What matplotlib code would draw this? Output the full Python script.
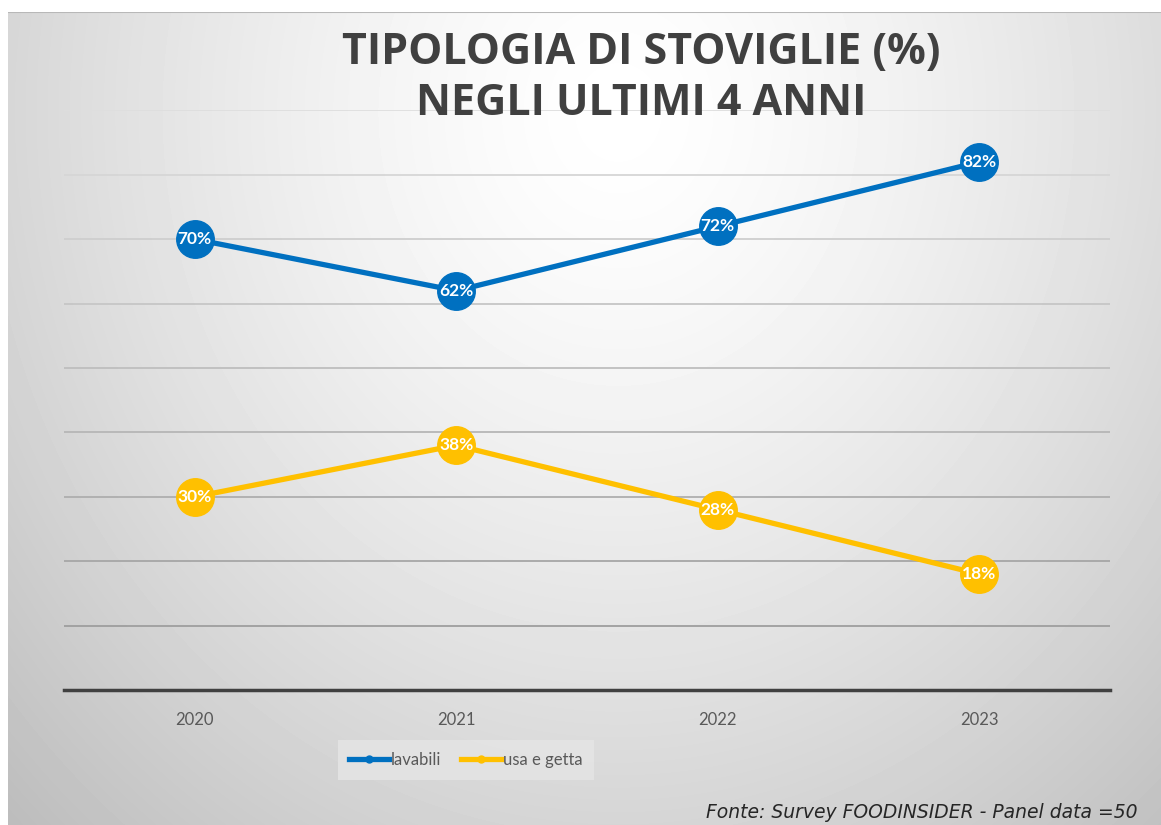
import matplotlib
matplotlib.use("Agg")
import matplotlib.pyplot as plt
import numpy as np

years = ["2020", "2021", "2022", "2023"]
lavabili = [70, 62, 72, 82]
usa_e_getta = [30, 38, 28, 18]
grid_levels = [10, 20, 30, 40, 50, 60, 70, 80, 90]

title = "TIPOLOGIA DI STOVIGLIE (%)\nNEGLI ULTIMI 4 ANNI"
source = "Fonte: Survey FOODINSIDER - Panel data =50"

W, H = 1161, 825
fig = plt.figure(figsize=(W / 100, H / 100), dpi=100)
fig.patch.set_facecolor("white")

# radial gradient background (white near title, gray at the edges)
bg = fig.add_axes([8 / W, 0, 1 - 8 / W, 1 - 12 / H], zorder=0)
yy, xx = np.mgrid[0:813, 0:1153]
r = np.sqrt(((xx - 610) / 720.0) ** 2 + ((yy - 100) / 820.0) ** 2)
shade = 1.0 - 0.2 * np.clip(r, 0, 1.2) ** 1.4
bg.imshow(shade, cmap="gray", vmin=0, vmax=1, aspect="auto",
          extent=[0, 1, 0, 1], origin="upper")
bg.plot([0, 1], [1, 1], color="#b8b8b8", lw=1.5, transform=bg.transAxes)
bg.set_axis_off()

ax = fig.add_axes([64 / W, (H - 690) / H, (1110 - 64) / W, (690 - 110.4) / H], zorder=1)
ax.patch.set_alpha(0)
x = np.arange(len(years)) + 0.5
ax.set_xlim(0, len(years))
ax.set_ylim(0, 90)

for lv in grid_levels:
    g = 0.62 + 0.25 * (lv - 10) / 80
    ax.axhline(lv, color=(g, g, g), lw=1.3, zorder=1)

for s in ["top", "right", "left"]:
    ax.spines[s].set_visible(False)
ax.spines["bottom"].set_color("#404040")
ax.spines["bottom"].set_linewidth(2.5)
ax.set_yticks([])
ax.set_xticks(x)
ax.set_xticklabels(years, fontsize=12, color="#595959", family="Lato")
ax.tick_params(axis="x", length=0, pad=16)

series = [("lavabili", lavabili, "#0070C0"), ("usa e getta", usa_e_getta, "#FFC000")]
for name, vals, col in series:
    ax.plot(x, vals, color=col, lw=3.8, marker="o", ms=27, label=name, zorder=3,
            clip_on=False, solid_capstyle="round")
    for xi, v in zip(x, vals):
        ax.text(xi, v, f"{v}%", ha="center", va="center", color="white",
                fontsize=12.5, fontweight="bold", family="Lato", zorder=4)

handles = [plt.Line2D([], [], color=c, lw=3.8, marker="o", ms=5) for _, _, c in series]
leg = fig.legend(handles, [s[0] for s in series], loc="center",
                 bbox_to_anchor=(466 / W, (H - 760) / H), ncol=2, frameon=True,
                 fontsize=12, handlelength=2.4, handletextpad=0.1, columnspacing=1.2,
                 borderpad=0.7, fancybox=False)
leg.get_frame().set_facecolor("#e4e4e4")
leg.get_frame().set_edgecolor("none")
leg.get_frame().set_alpha(0.9)
for t in leg.get_texts():
    t.set_color("#595959")
    t.set_family("Lato")

fig.text(641 / W, 1 - 78 / H, title, ha="center", va="center", fontsize=31,
         fontweight="bold", color="#404040", family="Open Sans", linespacing=1.22)
fig.text(1137 / W, 1 - 812 / H, source, ha="right", va="center", fontsize=13.5,
         style="italic", color="#262626", family="DejaVu Sans")

fig.savefig("out.png", dpi=100)
